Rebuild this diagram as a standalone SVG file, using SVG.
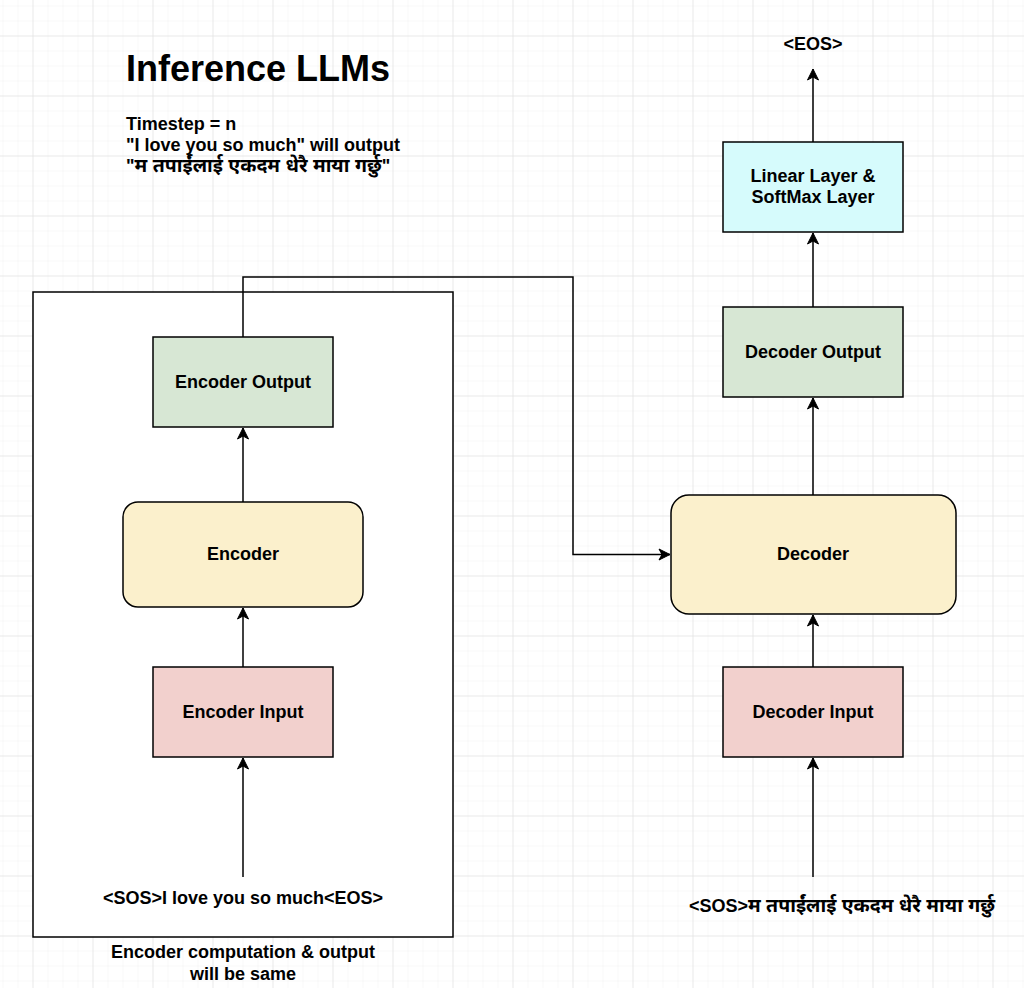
<svg xmlns="http://www.w3.org/2000/svg" width="1024" height="988" viewBox="0 0 1024 988">
<defs>
<pattern id="minor" x="2.5" y="5.5" width="15" height="15" patternUnits="userSpaceOnUse">
<path d="M0,0 H15 M0,0 V15" fill="none" stroke="#f1f1f1" stroke-width="1"/>
</pattern>
<pattern id="major" x="32.5" y="35.5" width="60" height="60" patternUnits="userSpaceOnUse">
<path d="M0,0 H60 M0,0 V60" fill="none" stroke="#dedede" stroke-width="1"/>
</pattern>
<marker id="arr" markerUnits="userSpaceOnUse" markerWidth="14" markerHeight="14" viewBox="-12 -7 14 14" refX="0" refY="0" orient="auto">
<path d="M-11,-5.5 L0,0 L-11,5.5 L-8,0 Z" fill="#000" stroke="#000" stroke-width="1"/>
</marker>
<style>
.box{stroke:#000;stroke-width:1.5}
.t{font-family:"Liberation Sans","Noto Sans","Noto Sans Devanagari",Arial,sans-serif;font-weight:bold;font-size:18px;fill:#000;text-anchor:middle}
.l{font-family:"Liberation Sans","Noto Sans","Noto Sans Devanagari",Arial,sans-serif;font-weight:bold;font-size:18px;fill:#000}
.dv{font-size:19.5px}
.c{fill:none;stroke:#000;stroke-width:1.5}
</style>
</defs>
<rect width="1024" height="988" fill="#fff"/>
<rect width="1024" height="988" fill="url(#minor)"/>
<rect width="1024" height="988" fill="url(#major)"/>

<g id="title">
<text x="126" y="81" style="font-family:'Liberation Sans',Arial,sans-serif;font-weight:bold;font-size:36px">Inference LLMs</text>
</g>
<g id="note">
<text class="l" x="126" y="130">Timestep = n</text>
<text class="l" x="126" y="151">"I love you so much" will output</text>
<text class="l" x="126" y="172">"<tspan class="dv">म तपाईंलाई एकदम धेरै माया गर्छु</tspan>"</text>
</g>

<g id="encoder-container">
<rect class="box" x="33" y="292" width="420" height="645" fill="#fff"/>
<text class="t" x="243" y="958">Encoder computation &amp; output</text>
<text class="t" x="243" y="980">will be same</text>
</g>

<g id="encoder-output">
<rect class="box" x="153" y="337" width="180" height="90" fill="#d7e7d4"/>
<text class="t" x="243" y="388">Encoder Output</text>
</g>
<g id="encoder">
<rect class="box" x="123" y="502" width="240" height="105" rx="15" fill="#fbf0cc"/>
<text class="t" x="243" y="560">Encoder</text>
</g>
<g id="encoder-input">
<rect class="box" x="153" y="667" width="180" height="90" fill="#f2d0cd"/>
<text class="t" x="243" y="718">Encoder Input</text>
</g>
<g id="encoder-text">
<text class="t" x="243" y="904">&lt;SOS&gt;I love you so much&lt;EOS&gt;</text>
</g>

<g id="linear-layer">
<rect class="box" x="723" y="142" width="180" height="90" fill="#d6fbfc"/>
<text class="t" x="813" y="182">Linear Layer &amp;</text>
<text class="t" x="813" y="203">SoftMax Layer</text>
</g>
<g id="decoder-output">
<rect class="box" x="723" y="307" width="180" height="90" fill="#d7e7d4"/>
<text class="t" x="813" y="358">Decoder Output</text>
</g>
<g id="decoder">
<rect class="box" x="671" y="495" width="285" height="119" rx="18" fill="#fbf0cc"/>
<text class="t" x="813" y="560">Decoder</text>
</g>
<g id="decoder-input">
<rect class="box" x="723" y="667" width="180" height="90" fill="#f2d0cd"/>
<text class="t" x="813" y="718">Decoder Input</text>
</g>
<g id="decoder-text">
<text class="t" x="842" y="912">&lt;SOS&gt;<tspan class="dv">म तपाईंलाई एकदम धेरै माया गर्छु</tspan></text>
</g>
<g id="eos">
<text class="t" x="813" y="50">&lt;EOS&gt;</text>
</g>

<g id="connectors">
<path class="c" d="M243,877 V758" marker-end="url(#arr)"/>
<path class="c" d="M243,667 V608" marker-end="url(#arr)"/>
<path class="c" d="M243,502 V428" marker-end="url(#arr)"/>
<path class="c" d="M243,337 V277 H573 V554.5 H670" marker-end="url(#arr)"/>
<path class="c" d="M813,877 V758" marker-end="url(#arr)"/>
<path class="c" d="M813,667 V615" marker-end="url(#arr)"/>
<path class="c" d="M813,495 V398" marker-end="url(#arr)"/>
<path class="c" d="M813,307 V233" marker-end="url(#arr)"/>
<path class="c" d="M813,142 V69" marker-end="url(#arr)"/>
</g>
</svg>
